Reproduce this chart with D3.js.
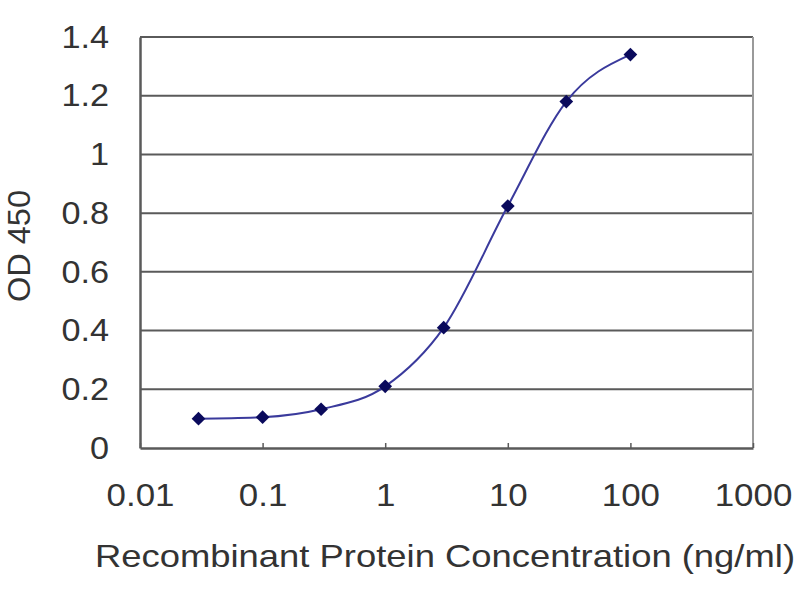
<!DOCTYPE html>
<html>
<head>
<meta charset="utf-8">
<script src="https://cdn.jsdelivr.net/npm/d3@7/dist/d3.min.js"></script>
<style>
  body { margin: 0; background: #fff; }
  text { font-family: "Liberation Sans", Arial, sans-serif; fill: #333; }
</style>
</head>
<body>
<svg id="chart" width="800" height="600"></svg>
<script>
// concentrations (ng/ml) and OD readings
var concentrations = [0.03, 0.1, 0.3, 1, 3, 10, 30, 100];
var odValues = [0.10, 0.105, 0.132, 0.21, 0.41, 0.824, 1.18, 1.34];
var xTicks = [0.01, 0.1, 1, 10, 100, 1000];
var xTickLabels = ["0.01", "0.1", "1", "10", "100", "1000"];
var yTicks = [0, 0.2, 0.4, 0.6, 0.8, 1, 1.2, 1.4];

var margin = { left: 140, top: 37, right: 47, bottom: 152 };
var svg = d3.select("#chart");
var width = 800 - margin.left - margin.right,
    height = 600 - margin.top - margin.bottom;

var x = d3.scaleLog().domain([0.01, 1000]).range([0, width]);
var y = d3.scaleLinear().domain([0, 1.4]).range([height, 0]);

var g = svg.append("g").attr("transform", "translate(" + margin.left + "," + margin.top + ")");

// widen text a bit, the source font runs wide
function stretch(sel, k) {
    sel.each(function () {
        var w = this.getComputedTextLength();
        d3.select(this).attr("textLength", w * k).attr("lengthAdjust", "spacingAndGlyphs");
    });
}

// horizontal grid lines
g.selectAll("line.grid").data(yTicks.slice(1)).enter().append("line")
    .attr("class", "grid")
    .attr("x1", 0).attr("x2", width)
    .attr("y1", function (d) { return y(d); })
    .attr("y2", function (d) { return y(d); })
    .attr("stroke", "#5a5a5a").attr("stroke-width", 2);

// right border is lighter
g.append("line").attr("x1", width).attr("x2", width).attr("y1", 0).attr("y2", height)
    .attr("stroke", "#9a9a9a").attr("stroke-width", 2);

// y axis
var yAxis = g.append("g").call(d3.axisLeft(y).tickValues(yTicks).tickSize(0).tickPadding(31)
    .tickFormat(function (d) { return d3.format("~g")(d); }));
yAxis.select(".domain").attr("stroke", "#5a5a5a").attr("stroke-width", 2.5);
yAxis.selectAll("text").attr("font-size", 32).attr("fill", "#333")
    .style("font-family", "'Liberation Sans', Arial, sans-serif");
stretch(yAxis.selectAll("text"), 1.07);

// x axis, ticks point inward
var xAxis = g.append("g").attr("transform", "translate(0," + height + ")")
    .call(d3.axisBottom(x).tickValues(xTicks).tickSizeInner(-5).tickSizeOuter(0).tickPadding(35)
        .tickFormat(function (d, i) { return xTickLabels[i]; }));
xAxis.select(".domain").attr("stroke", "#5a5a5a").attr("stroke-width", 2.5);
xAxis.selectAll(".tick line").attr("stroke", "#5a5a5a").attr("stroke-width", 1.5);
xAxis.selectAll("text").attr("font-size", 32).attr("fill", "#333")
    .style("font-family", "'Liberation Sans', Arial, sans-serif");
stretch(xAxis.selectAll("text"), 1.09);

// fitted curve through the points
var line = d3.line()
    .x(function (d, i) { return x(concentrations[i]); })
    .y(function (d) { return y(d); })
    .curve(d3.curveMonotoneX);
g.append("path").datum(odValues)
    .attr("d", line)
    .attr("fill", "none")
    .attr("stroke", "#3a3a9c")
    .attr("stroke-width", 2);

// diamond markers
var diamond = d3.symbol().type(d3.symbolDiamond2).size(120);
g.selectAll("path.pt").data(odValues).enter().append("path")
    .attr("class", "pt")
    .attr("d", diamond)
    .attr("transform", function (d, i) { return "translate(" + x(concentrations[i]) + "," + y(d) + ")"; })
    .attr("fill", "#0a0a5c");

// axis titles
svg.append("text")
    .attr("x", 445).attr("y", 567)
    .attr("text-anchor", "middle")
    .attr("font-size", 32)
    .attr("textLength", 700).attr("lengthAdjust", "spacingAndGlyphs")
    .text("Recombinant Protein Concentration (ng/ml)");
svg.append("text")
    .attr("transform", "translate(30,246) rotate(-90)")
    .attr("text-anchor", "middle")
    .attr("font-size", 32)
    .attr("textLength", 112).attr("lengthAdjust", "spacingAndGlyphs")
    .text("OD 450");
</script>
</body>
</html>
